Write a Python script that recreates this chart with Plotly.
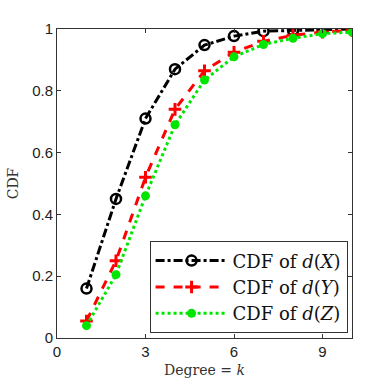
import plotly.graph_objects as go

k = [1, 2, 3, 4, 5, 6, 7, 8, 9, 10]
cdf_x = [0.16, 0.45, 0.71, 0.87, 0.948, 0.977, 0.993, 0.996, 0.998, 1.0]
cdf_y = [0.055, 0.25, 0.52, 0.74, 0.865, 0.925, 0.96, 0.98, 0.99, 0.995]
cdf_z = [0.04, 0.205, 0.46, 0.69, 0.835, 0.91, 0.95, 0.97, 0.985, 0.99]
names = ["CDF of <i>d</i>(<i>X</i>)", "CDF of <i>d</i>(<i>Y</i>)", "CDF of <i>d</i>(<i>Z</i>)"]
xticks = [0, 3, 6, 9]
yticks = [0, 0.2, 0.4, 0.6, 0.8, 1]

fig = go.Figure()
fig.add_trace(go.Scatter(x=k, y=cdf_x, name=names[0], mode="lines+markers",
                         line=dict(color="black", width=3, dash="dashdot"),
                         marker=dict(symbol="circle-open", size=10, color="black", line=dict(width=2.5))))
fig.add_trace(go.Scatter(x=k, y=cdf_y, name=names[1], mode="lines+markers",
                         line=dict(color="red", width=3, dash="dash"),
                         marker=dict(symbol="cross-thin-open", size=9, color="red", line=dict(width=3, color="red"))))
fig.add_trace(go.Scatter(x=k, y=cdf_z, name=names[2], mode="lines+markers",
                         line=dict(color="#00e600", width=3, dash="dot"),
                         marker=dict(symbol="circle", size=9, color="#00e600")))

axis_common = dict(showgrid=False, zeroline=False, showline=True, linecolor="#333", linewidth=1,
                   mirror="ticks", ticks="inside", ticklen=4, tickcolor="#333",
                   tickfont=dict(family="Liberation Sans, Arial", size=15, color="#222"))
fig.update_layout(
    width=390, height=390,
    margin=dict(l=57, r=38, t=29, b=52),
    plot_bgcolor="white", paper_bgcolor="white",
    xaxis=dict(range=[0, 10], tickvals=xticks,
               title=dict(text="Degree = <i>k</i>", font=dict(family="DejaVu Serif, serif", size=14, color="#333"), standoff=6),
               **axis_common),
    yaxis=dict(range=[0, 1], tickvals=yticks, ticktext=["0", "0.2", "0.4", "0.6", "0.8", "1"],
               title=dict(text="CDF", font=dict(family="DejaVu Serif, serif", size=14, color="#333"), standoff=10),
               **axis_common),
    legend=dict(x=0.985, y=0.015, xanchor="right", yanchor="bottom", bgcolor="white",
                bordercolor="#333", borderwidth=1, tracegroupgap=0,
                font=dict(family="DejaVu Serif, serif", size=18, color="#111"),
                itemwidth=72),
    showlegend=True,
)
fig.write_html("out.html")
